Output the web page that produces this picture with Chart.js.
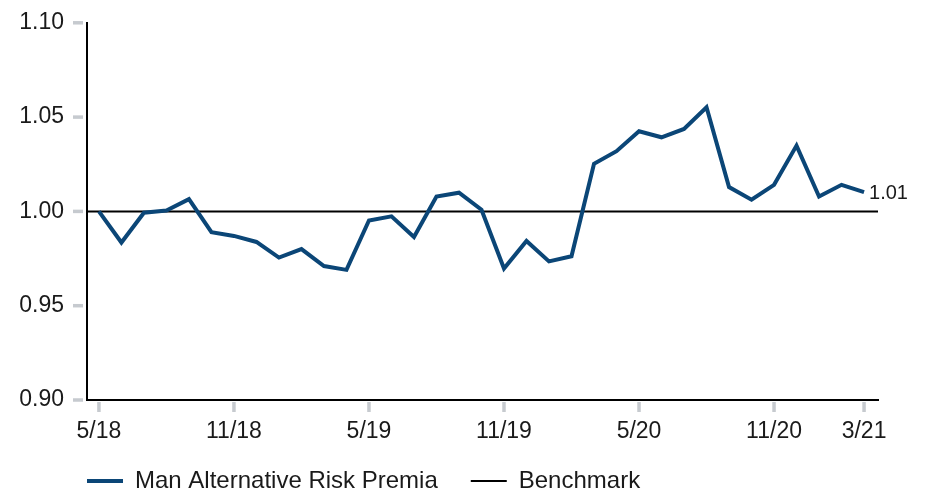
<!DOCTYPE html>
<html>
<head>
<meta charset="utf-8">
<script src="https://cdn.jsdelivr.net/npm/chart.js@4/dist/chart.umd.min.js"></script>
<style>
  html, body { margin: 0; padding: 0; background: #fff; }
  #wrap { width: 928px; height: 495px; }
</style>
</head>
<body>
<div id="wrap"><canvas id="chart"></canvas></div>
<script>
// Meses (5/18 .. 3/21)
const months = [
  '5/18', '6/18', '7/18', '8/18', '9/18', '10/18', '11/18', '12/18',
  '1/19', '2/19', '3/19', '4/19', '5/19', '6/19', '7/19', '8/19', '9/19', '10/19', '11/19', '12/19',
  '1/20', '2/20', '3/20', '4/20', '5/20', '6/20', '7/20', '8/20', '9/20', '10/20', '11/20', '12/20',
  '1/21', '2/21', '3/21'
];
// Valores
const premia = [
  1.000, 0.9835, 0.9993, 1.0005, 1.0065, 0.989, 0.987, 0.9838,
  0.9755, 0.980, 0.971, 0.969, 0.9952, 0.9974, 0.9864, 1.0079, 1.0099, 1.0009, 0.9697, 0.9843,
  0.9735, 0.9762, 1.0252, 1.0319, 1.0425, 1.0393, 1.0437, 1.0552, 1.0129, 1.0062, 1.0141, 1.0349,
  1.0079, 1.0141, 1.0102
];
const benchmarkLevel = 1.00;
const xTickMonths = ['5/18', '11/18', '5/19', '11/19', '5/20', '11/20', '3/21'];
const yTicks = [0.90, 0.95, 1.00, 1.05, 1.10];
const endLabel = '1.01';

const BLUE = '#0b4677';
const TICK_GRAY = '#c6cacf';
const FONT = "'Liberation Sans', Arial, sans-serif";

const xMin = -0.53;
const xMax = 34.62;

// Marcas de eje grises dibujadas a mano (con hueco en el eje Y)
const tickMarks = {
  id: 'tickMarks',
  afterDraw(chart) {
    const { ctx, chartArea, scales } = chart;
    ctx.save();
    ctx.strokeStyle = TICK_GRAY;
    ctx.lineWidth = 3.5;
    yTicks.forEach(v => {
      const y = scales.y.getPixelForValue(v);
      ctx.beginPath();
      ctx.moveTo(chartArea.left - 14, y);
      ctx.lineTo(chartArea.left - 4, y);
      ctx.stroke();
    });
    xTickMonths.forEach(m => {
      const x = scales.x.getPixelForValue(months.indexOf(m));
      ctx.beginPath();
      ctx.moveTo(x, chartArea.bottom + 2);
      ctx.lineTo(x, chartArea.bottom + 12);
      ctx.stroke();
    });
    ctx.restore();
  }
};

// Etiqueta del último valor
const lastLabel = {
  id: 'lastLabel',
  afterDatasetsDraw(chart) {
    const meta = chart.getDatasetMeta(0);
    const pt = meta.data[meta.data.length - 1];
    const { ctx } = chart;
    ctx.save();
    ctx.font = '20px ' + FONT;
    ctx.fillStyle = '#1a1a1a';
    ctx.textAlign = 'left';
    ctx.textBaseline = 'middle';
    ctx.fillText(endLabel, pt.x + 5, pt.y + 1);
    ctx.restore();
  }
};

// Mover la leyenda para alinearla con el eje Y
const legendShift = {
  id: 'legendShift',
  afterLayout(chart) {
    const lg = chart.legend;
    const pad = lg.options.labels.padding;
    lg.left = chart.chartArea.left - pad;
    lg.top = chart.height - 14 - pad - lg.options.labels.font.size / 2;
  }
};

const ctx = document.getElementById('chart').getContext('2d');
new Chart(ctx, {
  type: 'line',
  plugins: [tickMarks, lastLabel, legendShift],
  data: {
    datasets: [
      {
        label: 'Man Alternative Risk Premia',
        data: premia.map((v, i) => ({ x: i, y: v })),
        borderColor: BLUE,
        backgroundColor: BLUE,
        borderWidth: 4,
        pointRadius: 0,
        tension: 0,
        borderJoinStyle: 'miter'
      },
      {
        label: 'Benchmark',
        data: [{ x: xMin, y: benchmarkLevel }, { x: xMax, y: benchmarkLevel }],
        borderColor: '#000',
        backgroundColor: '#000',
        borderWidth: 2,
        pointRadius: 0
      }
    ]
  },
  options: {
    responsive: true,
    maintainAspectRatio: false,
    animation: false,
    layout: { padding: { top: 20, right: 50, bottom: -22, left: 0 } },
    plugins: {
      tooltip: { enabled: false },
      legend: {
        display: true,
        position: 'bottom',
        align: 'start',
        labels: {
          color: '#1a1a1a',
          font: { family: FONT, size: 24 },
          usePointStyle: true,
          pointStyle: 'line',
          pointStyleWidth: 36,
          padding: 33
        }
      }
    },
    scales: {
      x: {
        type: 'linear',
        min: xMin,
        max: xMax,
        afterBuildTicks: s => { s.ticks = xTickMonths.map(m => ({ value: months.indexOf(m) })); },
        afterFit: s => { s.height = 50; },
        grid: { drawOnChartArea: false, drawTicks: true, tickLength: 12, tickColor: 'transparent' },
        border: { display: true, color: '#000', width: 2 },
        ticks: {
          autoSkip: false,
          maxRotation: 0,
          padding: 6,
          color: '#1a1a1a',
          font: { family: FONT, size: 23 },
          callback: v => months[v]
        }
      },
      y: {
        min: 0.90,
        max: 1.10,
        afterBuildTicks: s => { s.ticks = yTicks.map(v => ({ value: v })); },
        afterFit: s => { s.width = 87; },
        grid: { drawOnChartArea: false, drawTicks: true, tickLength: 14, tickColor: 'transparent' },
        border: { display: true, color: '#000', width: 2 },
        ticks: {
          padding: 9,
          color: '#1a1a1a',
          font: { family: FONT, size: 23 },
          callback: v => v.toFixed(2)
        }
      }
    }
  }
});
</script>
</body>
</html>
